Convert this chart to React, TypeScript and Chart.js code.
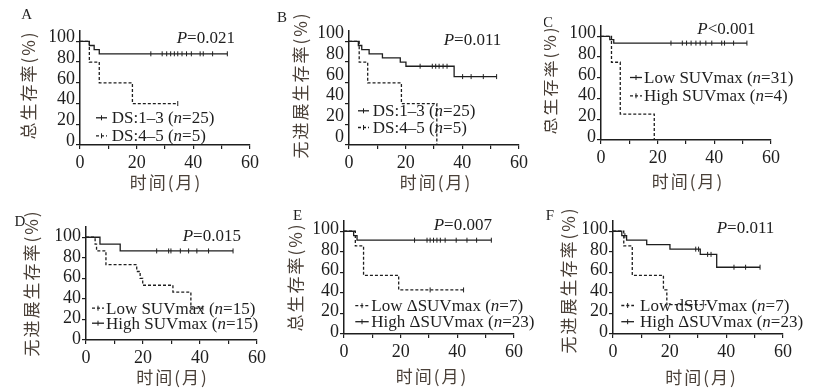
import React, { useEffect, useRef } from "react";
import { Chart, registerables } from "chart.js";

Chart.register(...registerables);

// ---------- shared axis values ----------
const monthTicks = [0, 10, 20, 30, 40, 50, 60];
const monthLabelTicks = [0, 20, 40, 60];
const survivalTicks = [0, 20, 40, 60, 80, 100];
const monthMax = 60;
const survivalMax = 110;

const xAxisTitle = "时间(月)";
const osTitle = "总生存率(%)";
const pfsTitle = "无进展生存率(%)";

// ---------- Panel A (OS by DS) ----------
const aLabels = ["DS:1–3 (n=25)", "DS:4–5 (n=5)"];
const aDs13Times = [0, 3.3, 5, 6.8, 52];
const aDs13Surv = [100, 96, 92, 88, 88];
const aDs13Censored = [25, 29, 30.6, 32, 33.3, 34.5, 36, 37.6, 39.3, 42.4, 43.5, 46.8, 52];
const aDs45Times = [0, 3.3, 6.8, 18.5, 34.5];
const aDs45Surv = [100, 80, 60, 40, 40];
const aDs45Censored = [34.5];
const aPValue = "=0.021";

// ---------- Panel B (PFS by DS) ----------
const bLabels = ["DS:1–3 (n=25)", "DS:4–5 (n=5)"];
const bDs13Times = [0, 3.3, 4.5, 7.1, 11.8, 18.1, 20.1, 37.1, 52.1];
const bDs13Surv = [100, 96, 92, 88, 84, 80, 76, 66, 66];
const bDs13Censored = [25.1, 29.4, 30.6, 31.8, 33.2, 34.6, 40.1, 43.1, 47.4, 52.1];
const bDs45Times = [0, 3.6, 6.6, 18.5, 31];
const bDs45Surv = [100, 80, 60, 40, 0];
const bDs45Censored: number[] = [];
const bPValue = "=0.011";

// ---------- Panel C (OS by SUVmax) ----------
const cLabels = ["Low SUVmax (n=31)", "High SUVmax (n=4)"];
const cLowTimes = [0, 3.1, 4.5, 51.5];
const cLowSurv = [100, 96.8, 93.5, 93.5];
const cLowCensored = [24.7, 28.7, 30.2, 31.8, 33.5, 35, 37, 39.1, 42.6, 43.6, 46.8, 51.5];
const cHighTimes = [0, 3.7, 6.8, 18.8];
const cHighSurv = [100, 75, 25, 0];
const cHighCensored: number[] = [];
const cPValue = "<0.001";

// ---------- Panel D (PFS by SUVmax) ----------
const dLabels = ["Low SUVmax (n=15)", "High SUVmax (n=15)"];
const dLowTimes = [0, 3.2, 3.7, 7, 17.8, 19, 19.9, 30.5, 36.8, 41];
const dLowSurv = [100, 93.3, 86.7, 73.3, 66.7, 60, 53.3, 46.7, 31.1, 31.1];
const dLowCensored = [41];
const dHighTimes = [0, 4.9, 12, 51.6];
const dHighSurv = [100, 93.3, 86.7, 86.7];
const dHighCensored = [24.8, 29, 29.8, 33.1, 36, 38.9, 43, 51.6];
const dPValue = "=0.015";

// ---------- Panel E (OS by ΔSUVmax) ----------
const eLabels = ["Low ΔSUVmax (n=7)", "High ΔSUVmax (n=23)"];
const eLowTimes = [0, 4, 6.9, 19.3, 42.2];
const eLowSurv = [100, 85.7, 57.1, 42.9, 42.9];
const eLowCensored = [30.4, 42.2];
const eHighTimes = [0, 3.4, 4.6, 52];
const eHighSurv = [100, 95.7, 91.3, 91.3];
const eHighCensored = [24.9, 29.3, 30.4, 31.6, 32.8, 34, 35.7, 39.6, 43.4, 46.8, 52];
const ePValue = "=0.007";

// ---------- Panel F (PFS by ΔSUVmax) ----------
const fLabels = ["Low dSUVmax (n=7)", "High ΔSUVmax (n=23)"];
const fLowTimes = [0, 3.8, 6.8, 17.8, 19, 33];
const fLowSurv = [100, 85.7, 57.1, 42.9, 28.6, 28.6];
const fLowCensored: number[] = [];
const fHighTimes = [0, 3.1, 4.8, 11.9, 20.1, 30.8, 36.6, 51.9];
const fHighSurv = [100, 95.7, 91.3, 87, 82.6, 77.5, 65, 65];
const fHighCensored = [4.2, 29.2, 30.2, 33.4, 34.6, 42.7, 46.8, 51.9];
const fPValue = "=0.011";

// ---------- styles ----------
const SERIF = '"Liberation Serif", "Times New Roman", serif';
const CJK = '"Noto Sans CJK SC", "Noto Sans", sans-serif';
const INK = "#1e1e1e";
const TITLE_INK = "#4a4038";
const Y_AXIS_W = 30;
const X_AXIS_H = 24;

type Curve = { label: string; times: number[]; surv: number[]; censored: number[]; dashed: boolean };
type Box = { left: number; top: number; width: number; height: number };
type Panel = {
  letter: string;
  pValue: string;
  yTitle: string;
  curves: Curve[];
  cell: Box;
  plot: { x0: number; x60: number; yTop: number; y0: number };
  yLabelOffset: number;
  letterAt: [number, number];
  pAt: [number, number];
  yTitleAt: [number, number];
  xTitleAt: [number, number];
  legend: { lineFrom: number; lineTo: number; textX: number; baselines: number[] };
};

const panels: Panel[] = [
  {
    letter: "A", pValue: aPValue, yTitle: osTitle,
    curves: [
      { label: aLabels[0], times: aDs13Times, surv: aDs13Surv, censored: aDs13Censored, dashed: false },
      { label: aLabels[1], times: aDs45Times, surv: aDs45Surv, censored: aDs45Censored, dashed: true },
    ],
    cell: { left: 0, top: 0, width: 272, height: 195 },
    plot: { x0: 80, x60: 250, yTop: 31, y0: 145 },
    yLabelOffset: -4,
    letterAt: [26.7, 14.7], pAt: [176.7, 43.1], yTitleAt: [28.3, 85], xTitleAt: [166, 182.7],
    legend: { lineFrom: 96, lineTo: 107, textX: 111.7, baselines: [123.4, 141.4] },
  },
  {
    letter: "B", pValue: bPValue, yTitle: pfsTitle,
    curves: [
      { label: bLabels[0], times: bDs13Times, surv: bDs13Surv, censored: bDs13Censored, dashed: false },
      { label: bLabels[1], times: bDs45Times, surv: bDs45Surv, censored: bDs45Censored, dashed: true },
    ],
    cell: { left: 272, top: 0, width: 272, height: 195 },
    plot: { x0: 349, x60: 519, yTop: 31, y0: 145 },
    yLabelOffset: -8,
    letterAt: [282, 17.7], pAt: [443.7, 45.1], yTitleAt: [300.3, 85], xTitleAt: [436, 182.7],
    legend: { lineFrom: 358, lineTo: 369, textX: 372.7, baselines: [116.4, 133.1] },
  },
  {
    letter: "C", pValue: cPValue, yTitle: osTitle,
    curves: [
      { label: cLabels[0], times: cLowTimes, surv: cLowSurv, censored: cLowCensored, dashed: false },
      { label: cLabels[1], times: cHighTimes, surv: cHighSurv, censored: cHighCensored, dashed: true },
    ],
    cell: { left: 544, top: 0, width: 272, height: 195 },
    plot: { x0: 601, x60: 771, yTop: 26, y0: 140 },
    yLabelOffset: -3,
    letterAt: [548, 23.3], pAt: [697.3, 33.9], yTitleAt: [550, 80], xTitleAt: [688, 181.7],
    legend: { lineFrom: 630, lineTo: 642, textX: 644, baselines: [83.1, 101.4] },
  },
  {
    letter: "D", pValue: dPValue, yTitle: pfsTitle,
    curves: [
      { label: dLabels[0], times: dLowTimes, surv: dLowSurv, censored: dLowCensored, dashed: true },
      { label: dLabels[1], times: dHighTimes, surv: dHighSurv, censored: dHighCensored, dashed: false },
    ],
    cell: { left: 0, top: 195, width: 272, height: 194 },
    plot: { x0: 86, x60: 257, yTop: 227, y0: 340 },
    yLabelOffset: -1,
    letterAt: [20, 221.7], pAt: [182.7, 241.1], yTitleAt: [32, 283], xTitleAt: [172.5, 377.7],
    legend: { lineFrom: 92, lineTo: 104, textX: 106, baselines: [313.8, 328.8] },
  },
  {
    letter: "E", pValue: ePValue, yTitle: osTitle,
    curves: [
      { label: eLabels[0], times: eLowTimes, surv: eLowSurv, censored: eLowCensored, dashed: true },
      { label: eLabels[1], times: eHighTimes, surv: eHighSurv, censored: eHighCensored, dashed: false },
    ],
    cell: { left: 272, top: 195, width: 272, height: 194 },
    plot: { x0: 344, x60: 514, yTop: 221, y0: 334 },
    yLabelOffset: -2,
    letterAt: [297.7, 216], pAt: [433.7, 230.3], yTitleAt: [296, 277], xTitleAt: [432, 376.7],
    legend: { lineFrom: 355.3, lineTo: 368.7, textX: 371.3, baselines: [311.3, 327.3] },
  },
  {
    letter: "F", pValue: fPValue, yTitle: pfsTitle,
    curves: [
      { label: fLabels[0], times: fLowTimes, surv: fLowSurv, censored: fLowCensored, dashed: true },
      { label: fLabels[1], times: fHighTimes, surv: fHighSurv, censored: fHighCensored, dashed: false },
    ],
    cell: { left: 544, top: 195, width: 272, height: 194 },
    plot: { x0: 613, x60: 783, yTop: 221, y0: 334 },
    yLabelOffset: -2,
    letterAt: [550, 216], pAt: [716.7, 232.9], yTitleAt: [569, 280], xTitleAt: [701.5, 377.7],
    legend: { lineFrom: 621.3, lineTo: 634, textX: 640, baselines: [311.1, 327.3] },
  },
];

function levelAt(times: number[], surv: number[], t: number) {
  let s = surv[0];
  for (let i = 0; i < times.length; i++) if (times[i] <= t) s = surv[i];
  return s;
}

function drawRuns(ctx: CanvasRenderingContext2D, runs: { text: string; italic: boolean }[], x: number, y: number, size: number) {
  let cx = x;
  for (const r of runs) {
    ctx.font = `${r.italic ? "italic " : ""}${size}px ${SERIF}`;
    ctx.fillText(r.text, cx, y);
    cx += ctx.measureText(r.text).width;
  }
}

function labelRuns(label: string) {
  const m = label.match(/^(.*\()n(=.*)$/);
  if (!m) return [{ text: label, italic: false }];
  return [
    { text: m[1], italic: false },
    { text: "n", italic: true },
    { text: m[2], italic: false },
  ];
}

function buildConfig(p: Panel): any {
  const { cell, plot } = p;
  const padding = {
    left: plot.x0 - cell.left - Y_AXIS_W,
    top: plot.yTop - cell.top,
    right: cell.left + cell.width - plot.x60,
    bottom: cell.top + cell.height - plot.y0 - X_AXIS_H,
  };
  const datasets: any[] = [];
  p.curves.forEach((c) => {
    datasets.push({
      type: "line",
      label: c.label,
      data: c.times.map((t, i) => ({ x: t, y: c.surv[i] })),
      stepped: "before",
      borderColor: INK,
      borderWidth: 1.3,
      borderDash: c.dashed ? [3, 2] : [],
      pointRadius: 0,
      fill: false,
    });
  });
  p.curves.forEach((c) => {
    datasets.push({
      type: "line",
      label: c.label + " censored",
      data: c.censored.map((t) => ({ x: t, y: levelAt(c.times, c.surv, t) })),
      showLine: false,
      pointStyle: "line",
      pointRotation: 90,
      pointRadius: 2.5,
      pointBorderColor: INK,
      pointBorderWidth: 1,
    });
  });

  const textPlugin = {
    id: "panelText",
    afterDraw(chart: any) {
      const ctx: CanvasRenderingContext2D = chart.ctx;
      const ox = cell.left;
      const oy = cell.top;
      ctx.save();
      ctx.fillStyle = INK;
      ctx.strokeStyle = INK;
      // panel letter
      ctx.font = `15px ${SERIF}`;
      ctx.textAlign = "center";
      ctx.textBaseline = "middle";
      ctx.fillText(p.letter, p.letterAt[0] - ox, p.letterAt[1] - oy);
      // P value
      ctx.textAlign = "left";
      ctx.textBaseline = "alphabetic";
      drawRuns(ctx, [{ text: "P", italic: true }, { text: p.pValue, italic: false }], p.pAt[0] - ox, p.pAt[1] - oy, 17);
      // legend
      p.curves.forEach((c, i) => {
        const base = p.legend.baselines[i] - oy;
        const ly = base - 5.6;
        ctx.lineWidth = 1.3;
        ctx.setLineDash(c.dashed ? [3, 2] : []);
        ctx.beginPath();
        ctx.moveTo(p.legend.lineFrom - ox, ly);
        ctx.lineTo(p.legend.lineTo - ox, ly);
        ctx.stroke();
        ctx.setLineDash([]);
        ctx.lineWidth = 1;
        const mid = (p.legend.lineFrom + p.legend.lineTo) / 2 - ox;
        ctx.beginPath();
        ctx.moveTo(mid, ly - 2.5);
        ctx.lineTo(mid, ly + 2.5);
        ctx.stroke();
        drawRuns(ctx, labelRuns(c.label), p.legend.textX - ox, base, 17);
      });
      // axis titles
      ctx.fillStyle = TITLE_INK;
      ctx.font = `17px ${CJK}`;
      (ctx as any).letterSpacing = "2px";
      ctx.textAlign = "center";
      ctx.textBaseline = "middle";
      ctx.fillText(xAxisTitle, p.xTitleAt[0] - ox, p.xTitleAt[1] - oy);
      ctx.save();
      ctx.translate(p.yTitleAt[0] - ox, p.yTitleAt[1] - oy);
      ctx.rotate(-Math.PI / 2);
      ctx.fillText(p.yTitle, 0, 0);
      ctx.restore();
      (ctx as any).letterSpacing = "0px";
      ctx.restore();
    },
  };

  const axisCommon = {
    type: "linear",
    grid: { display: true, drawOnChartArea: false, drawTicks: true, tickLength: 4, color: INK, lineWidth: 1.2 },
    border: { display: true, color: INK, width: 1.5 },
  };

  return {
    type: "line",
    data: { datasets },
    plugins: [textPlugin],
    options: {
      animation: false,
      responsive: false,
      devicePixelRatio: 1,
      events: [],
      layout: { padding },
      plugins: { legend: { display: false }, tooltip: { enabled: false } },
      scales: {
        x: {
          ...axisCommon,
          min: 0,
          max: monthMax,
          afterBuildTicks: (axis: any) => {
            axis.ticks = monthTicks.map((v) => ({ value: v }));
          },
          afterFit: (axis: any) => {
            axis.height = X_AXIS_H;
          },
          ticks: {
            autoSkip: false,
            maxRotation: 0,
            padding: 3,
            color: INK,
            font: { family: SERIF, size: 18 },
            callback: (v: any) => (monthLabelTicks.includes(Number(v)) ? String(v) : ""),
          },
        },
        y: {
          ...axisCommon,
          min: 0,
          max: survivalMax,
          afterBuildTicks: (axis: any) => {
            axis.ticks = survivalTicks.map((v) => ({ value: v }));
          },
          afterFit: (axis: any) => {
            axis.width = Y_AXIS_W;
          },
          ticks: {
            autoSkip: false,
            padding: 1,
            labelOffset: p.yLabelOffset,
            color: INK,
            font: { family: SERIF, size: 18 },
            callback: (v: any) => String(v),
          },
        },
      },
    },
  };
}

function PanelChart({ panel }: { panel: Panel }) {
  const ref = useRef<HTMLCanvasElement>(null);
  useEffect(() => {
    const canvas = ref.current;
    if (!canvas) return;
    const chart = new Chart(canvas, buildConfig(panel));
    return () => chart.destroy();
  }, [panel]);
  const { cell } = panel;
  return (
    <canvas
      ref={ref}
      width={cell.width}
      height={cell.height}
      style={{ position: "absolute", left: cell.left, top: cell.top, width: cell.width, height: cell.height }}
    />
  );
}

export default function App() {
  return (
    <div style={{ position: "fixed", left: 0, top: 0, width: 816, height: 389, background: "#ffffff", overflow: "hidden" }}>
      {panels.map((p) => (
        <PanelChart key={p.letter} panel={p} />
      ))}
    </div>
  );
}
